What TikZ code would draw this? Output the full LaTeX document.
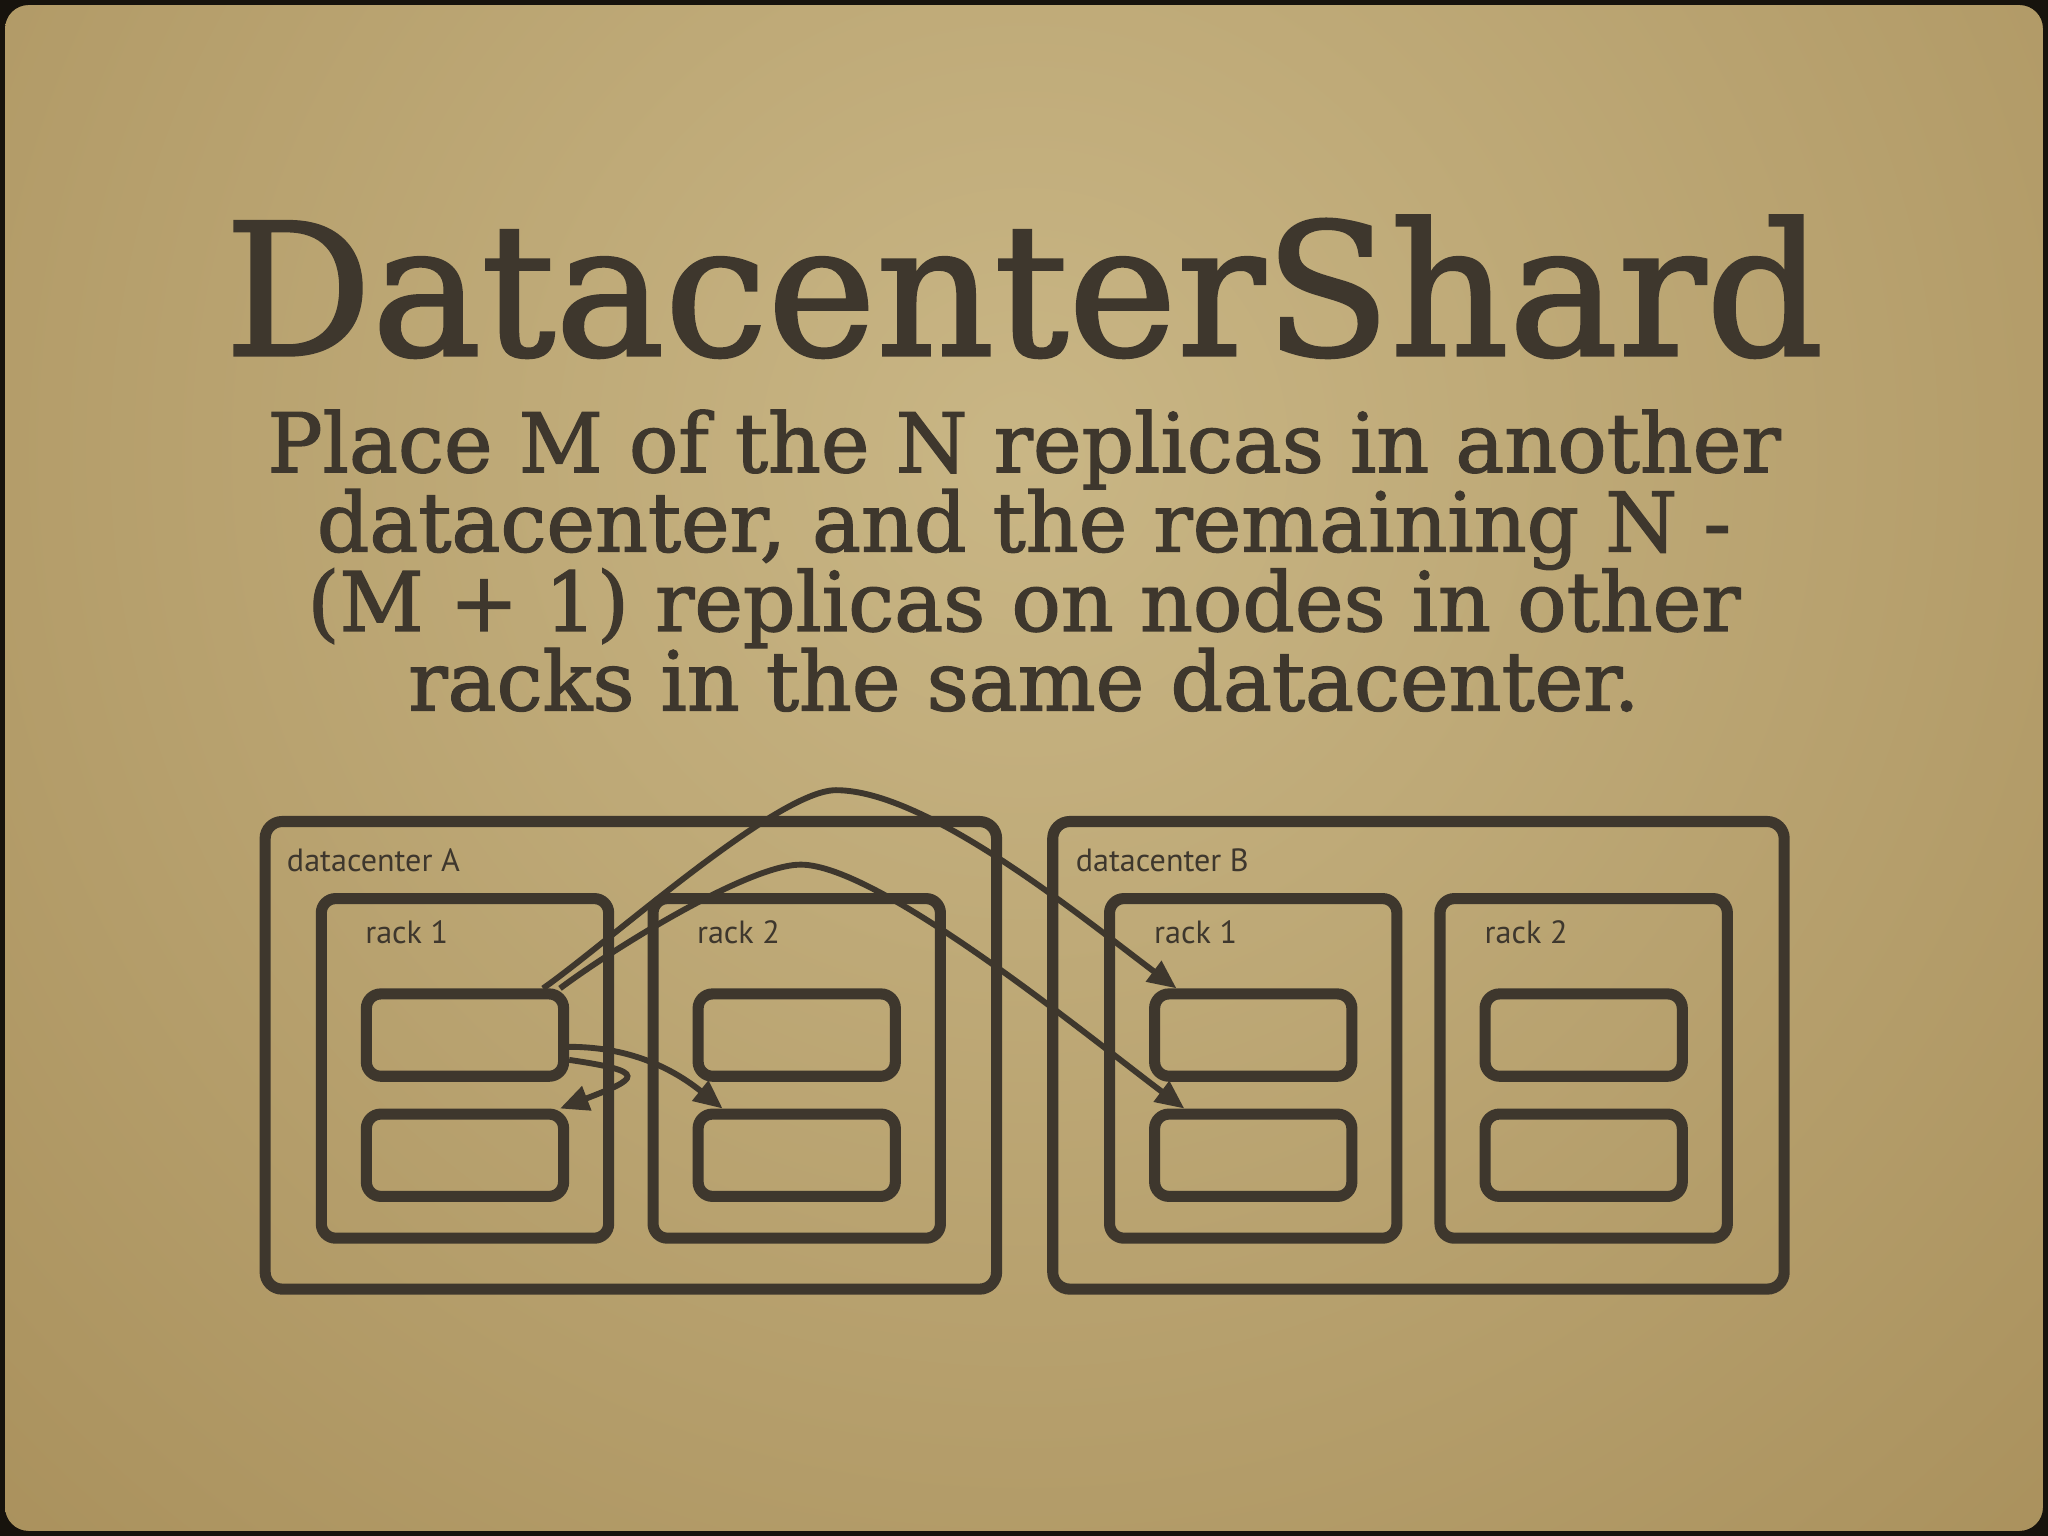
\documentclass[tikz,border=0pt]{standalone}
\usepackage{fontspec}
\setmainfont{DejaVu Serif}[FakeBold=1.6]
\setsansfont{PT Sans}
\usetikzlibrary{positioning, arrows.meta, shapes}

\definecolor{tinte}{HTML}{3E372D}
\definecolor{karton}{HTML}{A38954}
\definecolor{kartonhell}{HTML}{C9B685}
\definecolor{rahmen}{HTML}{17130D}

\begin{document}
\begin{tikzpicture}[
        every node/.style={inner sep=0pt},
        dc/.style={draw=tinte, line width=0.085cm, rounded corners=0.13cm, minimum width=5.6cm, minimum height=3.58cm},
        rack/.style={draw=tinte, line width=0.085cm, rounded corners=0.11cm, minimum width=2.2cm, minimum height=2.6cm},
        replica/.style={draw=tinte, line width=0.085cm, rounded corners=0.11cm, minimum width=1.51cm, minimum height=0.63cm},
        beschriftung/.style={anchor=base west, text=tinte, font=\sffamily\fontsize{7}{8}\selectfont},
        pfeil/.style={draw=tinte, line width=0.045cm, -{Triangle[length=0.22cm, width=0.19cm]}}
    ]

    % Hintergrund (Karton mit dunklem Rand)
    \fill[rahmen] (0,0) rectangle (15.68,11.76);
    \begin{scope}
        \clip[rounded corners=0.18cm] (0.04,0.04) rectangle (15.64,11.72);
        \fill[karton] (0,0) rectangle (15.68,11.76);
        \shade[inner color=kartonhell, outer color=karton] (7.84,8.3) circle (14cm);
    \end{scope}

    % Titel
    \node[text=tinte, font=\fontsize{40}{42}\selectfont, anchor=base] (titel) at (7.84, 9.04) {DatacenterShard};

    % Beschreibung
    \node[text=tinte, font={\fontsize{17.9}{17.3}\selectfont\lineskiplimit=-20pt}, align=center, anchor=north] (beschreibung) at (7.84, 8.63) {Place M of the N replicas in another\\datacenter, and the remaining N -\\(M + 1) replicas on nodes in other\\racks in the same datacenter.};

    % Rechenzentren
    \node[dc] (dcA) at (4.83, 3.68) {};
    \node[dc] (dcB) at (10.86, 3.68) {};

    % Racks
    \node[rack] (rackA1) at (3.56, 3.58) {};
    \node[rack] (rackA2) at (6.10, 3.58) {};
    \node[rack] (rackB1) at (9.595, 3.58) {};
    \node[rack] (rackB2) at (12.125, 3.58) {};

    % Replikate (oben / unten)
    \node[replica] (repA1o) at (3.56, 3.835) {};
    \node[replica] (repA1u) at (3.56, 2.915) {};
    \node[replica] (repA2o) at (6.10, 3.835) {};
    \node[replica] (repA2u) at (6.10, 2.915) {};
    \node[replica] (repB1o) at (9.595, 3.835) {};
    \node[replica] (repB1u) at (9.595, 2.915) {};
    \node[replica] (repB2o) at (12.125, 3.835) {};
    \node[replica] (repB2u) at (12.125, 2.915) {};

    % Beschriftungen
    \node[beschriftung] (lblA) at (2.19, 5.09) {datacenter A};
    \node[beschriftung] (lblB) at (8.23, 5.09) {datacenter B};
    \node[beschriftung] (lblA1) at (2.79, 4.54) {rack 1};
    \node[beschriftung] (lblA2) at (5.33, 4.54) {rack 2};
    \node[beschriftung] (lblB1) at (8.83, 4.54) {rack 1};
    \node[beschriftung] (lblB2) at (11.36, 4.54) {rack 2};

    % Kopien verteilen
    \coordinate (gipfelA) at (6.40, 5.71);
    \coordinate (gipfelB) at (6.13, 5.14);
    \draw[pfeil] ([xshift=-0.2cm]repA1o.north east) .. controls +(0.5,0.35) and +(-0.45,0) .. (gipfelA) .. controls +(0.7,0) and +(-0.72,0.54) .. ([xshift=0.21cm]repB1o.north west);
    \draw[pfeil] ([xshift=-0.07cm]repA1o.north east) .. controls +(0.4,0.3) and +(-0.4,0) .. (gipfelB) .. controls +(0.6,0) and +(-0.72,0.54) .. ([xshift=0.27cm]repB1u.north west);
    \draw[pfeil] ([yshift=-0.09cm]repA1o.east) .. controls +(0.5,0) and +(-0.35,0.28) .. ([xshift=0.23cm]repA2u.north west);
    \draw[pfeil] ([yshift=-0.19cm]repA1o.east) .. controls +(0.62,-0.09) and +(0.6,0.23) .. ([xshift=-0.07cm]repA1u.north east);

\end{tikzpicture}
\end{document}
